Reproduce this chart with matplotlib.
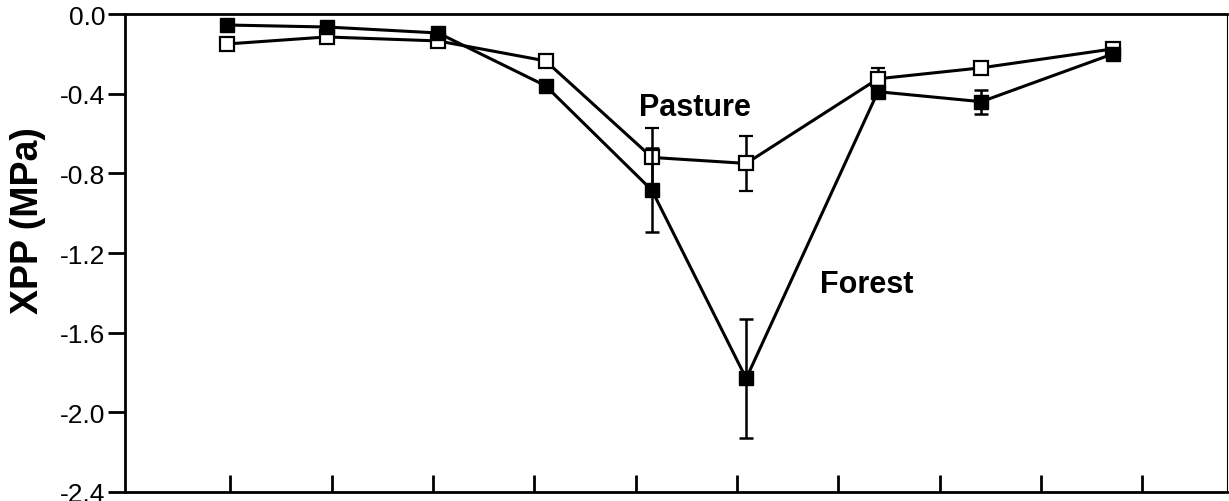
import matplotlib
matplotlib.use("Agg")
from matplotlib import pyplot as plt

plt.rcParams['font.family'] = ['Liberation Sans', 'DejaVu Sans']

# sampling positions on the x axis (in tick units)
x_pos = [0.97, 1.95, 3.05, 4.11, 5.16, 6.09, 7.39, 8.41, 9.71]

forest = [-0.055, -0.065, -0.095, -0.36, -0.885, -1.83, -0.39, -0.44, -0.20]
forest_err = [0.01, 0.01, 0.01, 0.03, 0.21, 0.30, 0.02, 0.06, 0.01]

pasture = [-0.15, -0.115, -0.135, -0.235, -0.72, -0.75, -0.325, -0.27, -0.175]
pasture_err = [0.01, 0.01, 0.01, 0.02, 0.15, 0.14, 0.055, 0.03, 0.01]

y_ticks = [0.0, -0.4, -0.8, -1.2, -1.6, -2.0, -2.4]
x_ticks = list(range(1, 11))

fig = plt.figure(figsize=(12.29, 5.02), dpi=100)
ax = fig.add_axes([0.1017, 0.018, 0.8963, 0.952])

ax.errorbar(x_pos, pasture, yerr=pasture_err, color='black', lw=2.2,
            marker='s', markersize=10, markerfacecolor='white',
            markeredgecolor='black', markeredgewidth=1.6,
            ecolor='black', elinewidth=1.8, capsize=5, capthick=1.8, zorder=3)
ax.errorbar(x_pos, forest, yerr=forest_err, color='black', lw=2.2,
            marker='s', markersize=10, markerfacecolor='black',
            markeredgecolor='black',
            ecolor='black', elinewidth=1.8, capsize=5, capthick=1.8, zorder=4)

ax.text(5.58, -0.467, 'Pasture', fontsize=22, fontweight='bold',
        ha='center', va='center')
ax.text(7.28, -1.355, 'Forest', fontsize=22, fontweight='bold',
        ha='center', va='center')

ax.set_xlim(-0.04, 10.83)
ax.set_ylim(-2.4, 0.0)
ax.set_yticks(y_ticks)
ax.set_yticklabels([f'{v:.1f}' for v in y_ticks])
ax.set_xticks(x_ticks)
ax.set_xticklabels([])
ax.tick_params(axis='y', direction='out', length=12, width=2, labelsize=19, pad=2)
ax.tick_params(axis='x', direction='in', length=12, width=2)

ax.set_ylabel('XPP (MPa)', fontsize=27, fontweight='bold', va='center')
ax.yaxis.set_label_coords(-0.088, 0.57)

for side in ['left', 'bottom', 'top']:
    ax.spines[side].set_linewidth(2)
ax.spines['right'].set_linewidth(0.8)

fig.savefig('out.png', dpi=100)
